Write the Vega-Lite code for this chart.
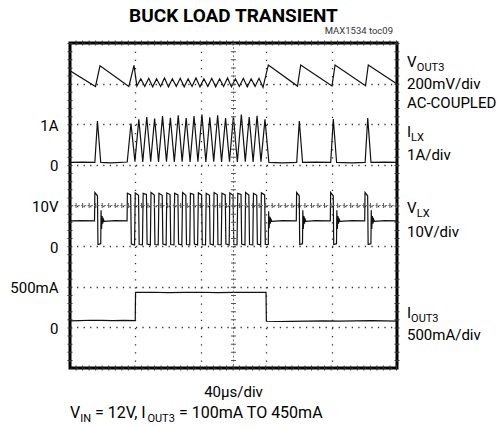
{
  "$schema": "https://vega.github.io/schema/vega-lite/v6.json",
  "width": 327,
  "height": 325,
  "autosize": {"type": "none"},
  "padding": {"left": 70, "top": 43, "right": 106, "bottom": 59},
  "background": "white",
  "config": {
    "view": {"stroke": "black", "strokeWidth": 3},
    "font": "Roboto"
  },
  "datasets": {
    "tr": [
      {"ch":"VOUT3","t":0,"v":7.318},{"ch":"VOUT3","t":31.2,"v":6.93},{"ch":"VOUT3","t":36.7,"v":7.44},{"ch":"VOUT3","t":72.0,"v":6.93},{"ch":"VOUT3","t":78.3,"v":7.45},
      {"ch":"VOUT3","t":81.8,"v":6.94},{"ch":"VOUT3","t":86.6,"v":7.12},{"ch":"VOUT3","t":91.5,"v":6.93},{"ch":"VOUT3","t":96.3,"v":7.13},{"ch":"VOUT3","t":101.1,"v":6.92},
      {"ch":"VOUT3","t":105.9,"v":7.12},{"ch":"VOUT3","t":110.8,"v":6.93},{"ch":"VOUT3","t":115.6,"v":7.14},{"ch":"VOUT3","t":120.4,"v":6.92},{"ch":"VOUT3","t":125.2,"v":7.12},
      {"ch":"VOUT3","t":130.0,"v":6.93},{"ch":"VOUT3","t":134.8,"v":7.13},{"ch":"VOUT3","t":139.7,"v":6.92},{"ch":"VOUT3","t":144.5,"v":7.12},{"ch":"VOUT3","t":149.3,"v":6.93},
      {"ch":"VOUT3","t":154.1,"v":7.14},{"ch":"VOUT3","t":159.0,"v":6.92},{"ch":"VOUT3","t":163.8,"v":7.12},{"ch":"VOUT3","t":168.6,"v":6.93},{"ch":"VOUT3","t":173.4,"v":7.13},
      {"ch":"VOUT3","t":178.2,"v":6.92},{"ch":"VOUT3","t":183.0,"v":7.12},{"ch":"VOUT3","t":187.9,"v":6.93},{"ch":"VOUT3","t":192.7,"v":7.14},{"ch":"VOUT3","t":197.5,"v":6.92},
      {"ch":"VOUT3","t":202.3,"v":7.12},{"ch":"VOUT3","t":207.2,"v":6.93},{"ch":"VOUT3","t":212.0,"v":7.13},{"ch":"VOUT3","t":216.8,"v":6.92},{"ch":"VOUT3","t":221.6,"v":7.12},
      {"ch":"VOUT3","t":226.4,"v":6.93},{"ch":"VOUT3","t":231.2,"v":7.13},{"ch":"VOUT3","t":236.1,"v":6.91},{"ch":"VOUT3","t":242.6,"v":7.46},{"ch":"VOUT3","t":278.3,"v":6.94},
      {"ch":"VOUT3","t":282.2,"v":7.46},{"ch":"VOUT3","t":320.5,"v":6.94},{"ch":"VOUT3","t":324.2,"v":7.46},{"ch":"VOUT3","t":361.5,"v":6.95},{"ch":"VOUT3","t":364.9,"v":7.46},
      {"ch":"VOUT3","t":400,"v":6.99},

      {"ch":"ILX","t":0,"v":5.06},{"ch":"ILX","t":15,"v":5.07},{"ch":"ILX","t":30.4,"v":5.06},{"ch":"ILX","t":33.6,"v":6.08},{"ch":"ILX","t":37.6,"v":5.06},
      {"ch":"ILX","t":50,"v":5.05},{"ch":"ILX","t":70.0,"v":5.07},
      {"ch":"ILX","t":74.6,"v":6.02},{"ch":"ILX","t":79.4,"v":5.08},{"ch":"ILX","t":84.2,"v":6.12},{"ch":"ILX","t":89.0,"v":5.07},{"ch":"ILX","t":93.9,"v":6.18},
      {"ch":"ILX","t":98.7,"v":5.08},{"ch":"ILX","t":103.5,"v":6.14},{"ch":"ILX","t":108.3,"v":5.07},{"ch":"ILX","t":113.2,"v":6.2},{"ch":"ILX","t":118.0,"v":5.08},
      {"ch":"ILX","t":122.8,"v":6.16},{"ch":"ILX","t":127.6,"v":5.07},{"ch":"ILX","t":132.4,"v":6.22},{"ch":"ILX","t":137.2,"v":5.08},{"ch":"ILX","t":142.1,"v":6.15},
      {"ch":"ILX","t":146.9,"v":5.07},{"ch":"ILX","t":151.7,"v":6.2},{"ch":"ILX","t":156.5,"v":5.08},{"ch":"ILX","t":161.4,"v":6.24},{"ch":"ILX","t":166.2,"v":5.07},
      {"ch":"ILX","t":171.0,"v":6.17},{"ch":"ILX","t":175.8,"v":5.08},{"ch":"ILX","t":180.6,"v":6.22},{"ch":"ILX","t":185.4,"v":5.07},{"ch":"ILX","t":190.3,"v":6.15},
      {"ch":"ILX","t":195.1,"v":5.08},{"ch":"ILX","t":199.9,"v":6.2},{"ch":"ILX","t":204.7,"v":5.07},{"ch":"ILX","t":209.6,"v":6.24},{"ch":"ILX","t":214.4,"v":5.08},
      {"ch":"ILX","t":219.2,"v":6.18},{"ch":"ILX","t":224.0,"v":5.07},{"ch":"ILX","t":228.8,"v":6.21},{"ch":"ILX","t":233.6,"v":5.08},{"ch":"ILX","t":238.5,"v":6.12},
      {"ch":"ILX","t":243.3,"v":5.06},{"ch":"ILX","t":260,"v":5.05},{"ch":"ILX","t":277.3,"v":5.06},{"ch":"ILX","t":280.5,"v":6.08},{"ch":"ILX","t":284.5,"v":5.06},
      {"ch":"ILX","t":300,"v":5.07},{"ch":"ILX","t":318.9,"v":5.06},{"ch":"ILX","t":322.1,"v":6.13},{"ch":"ILX","t":326.1,"v":5.06},{"ch":"ILX","t":345,"v":5.05},
      {"ch":"ILX","t":361.0,"v":5.06},{"ch":"ILX","t":364.2,"v":6.15},{"ch":"ILX","t":368.2,"v":5.06},{"ch":"ILX","t":385,"v":5.07},{"ch":"ILX","t":400,"v":5.06},

      {"ch":"VLX","t":0,"v":3.62},{"ch":"VLX","t":15,"v":3.63},{"ch":"VLX","t":30.0,"v":3.62},{"ch":"VLX","t":30.4,"v":4.32},{"ch":"VLX","t":33.6,"v":4.24},
      {"ch":"VLX","t":34.2,"v":3.04},{"ch":"VLX","t":37.6,"v":3.06},{"ch":"VLX","t":38.0,"v":3.88},{"ch":"VLX","t":38.6,"v":3.42},{"ch":"VLX","t":39.3,"v":3.74},
      {"ch":"VLX","t":40.0,"v":3.55},{"ch":"VLX","t":40.8,"v":3.66},{"ch":"VLX","t":41.8,"v":3.61},{"ch":"VLX","t":55,"v":3.63},{"ch":"VLX","t":69.8,"v":3.62},
      {"ch":"VLX","t":70.2,"v":4.30},{"ch":"VLX","t":74.2,"v":4.26},{"ch":"VLX","t":75.0,"v":3.05},{"ch":"VLX","t":79.0,"v":3.03},
      {"ch":"VLX","t":79.8,"v":4.31},{"ch":"VLX","t":83.8,"v":4.25},{"ch":"VLX","t":84.6,"v":3.04},{"ch":"VLX","t":88.6,"v":3.03},
      {"ch":"VLX","t":89.5,"v":4.30},{"ch":"VLX","t":93.5,"v":4.27},{"ch":"VLX","t":94.3,"v":3.05},{"ch":"VLX","t":98.3,"v":3.03},
      {"ch":"VLX","t":99.1,"v":4.32},{"ch":"VLX","t":103.1,"v":4.26},{"ch":"VLX","t":103.9,"v":3.04},{"ch":"VLX","t":107.9,"v":3.03},
      {"ch":"VLX","t":108.8,"v":4.30},{"ch":"VLX","t":112.8,"v":4.25},{"ch":"VLX","t":113.6,"v":3.05},{"ch":"VLX","t":117.6,"v":3.03},
      {"ch":"VLX","t":118.4,"v":4.31},{"ch":"VLX","t":122.4,"v":4.27},{"ch":"VLX","t":123.2,"v":3.04},{"ch":"VLX","t":127.2,"v":3.03},
      {"ch":"VLX","t":128.0,"v":4.30},{"ch":"VLX","t":132.0,"v":4.26},{"ch":"VLX","t":132.8,"v":3.05},{"ch":"VLX","t":136.8,"v":3.03},
      {"ch":"VLX","t":137.7,"v":4.32},{"ch":"VLX","t":141.7,"v":4.25},{"ch":"VLX","t":142.5,"v":3.04},{"ch":"VLX","t":146.5,"v":3.03},
      {"ch":"VLX","t":147.3,"v":4.30},{"ch":"VLX","t":151.3,"v":4.27},{"ch":"VLX","t":152.1,"v":3.05},{"ch":"VLX","t":156.1,"v":3.03},
      {"ch":"VLX","t":157.0,"v":4.31},{"ch":"VLX","t":161.0,"v":4.26},{"ch":"VLX","t":161.8,"v":3.04},{"ch":"VLX","t":165.8,"v":3.03},
      {"ch":"VLX","t":166.6,"v":4.30},{"ch":"VLX","t":170.6,"v":4.25},{"ch":"VLX","t":171.4,"v":3.05},{"ch":"VLX","t":175.4,"v":3.03},
      {"ch":"VLX","t":176.2,"v":4.32},{"ch":"VLX","t":180.2,"v":4.27},{"ch":"VLX","t":181.0,"v":3.04},{"ch":"VLX","t":185.0,"v":3.03},
      {"ch":"VLX","t":185.9,"v":4.30},{"ch":"VLX","t":189.9,"v":4.26},{"ch":"VLX","t":190.7,"v":3.05},{"ch":"VLX","t":194.7,"v":3.03},
      {"ch":"VLX","t":195.5,"v":4.31},{"ch":"VLX","t":199.5,"v":4.25},{"ch":"VLX","t":200.3,"v":3.04},{"ch":"VLX","t":204.3,"v":3.03},
      {"ch":"VLX","t":205.2,"v":4.30},{"ch":"VLX","t":209.2,"v":4.27},{"ch":"VLX","t":210.0,"v":3.05},{"ch":"VLX","t":214.0,"v":3.03},
      {"ch":"VLX","t":214.8,"v":4.32},{"ch":"VLX","t":218.8,"v":4.26},{"ch":"VLX","t":219.6,"v":3.04},{"ch":"VLX","t":223.6,"v":3.03},
      {"ch":"VLX","t":224.4,"v":4.30},{"ch":"VLX","t":228.4,"v":4.25},{"ch":"VLX","t":229.2,"v":3.05},{"ch":"VLX","t":233.2,"v":3.03},
      {"ch":"VLX","t":234.1,"v":4.31},{"ch":"VLX","t":238.1,"v":4.26},{"ch":"VLX","t":238.9,"v":3.04},{"ch":"VLX","t":242.6,"v":3.04},
      {"ch":"VLX","t":243.0,"v":3.86},{"ch":"VLX","t":243.6,"v":3.44},{"ch":"VLX","t":244.3,"v":3.73},{"ch":"VLX","t":245.0,"v":3.55},{"ch":"VLX","t":245.8,"v":3.66},
      {"ch":"VLX","t":246.8,"v":3.61},{"ch":"VLX","t":260,"v":3.63},{"ch":"VLX","t":276.8,"v":3.62},
      {"ch":"VLX","t":277.2,"v":4.32},{"ch":"VLX","t":280.4,"v":4.24},{"ch":"VLX","t":281.0,"v":3.04},{"ch":"VLX","t":284.4,"v":3.06},{"ch":"VLX","t":284.8,"v":3.88},
      {"ch":"VLX","t":285.4,"v":3.42},{"ch":"VLX","t":286.1,"v":3.74},{"ch":"VLX","t":286.8,"v":3.55},{"ch":"VLX","t":287.6,"v":3.66},{"ch":"VLX","t":288.6,"v":3.61},
      {"ch":"VLX","t":300,"v":3.63},{"ch":"VLX","t":318.4,"v":3.62},
      {"ch":"VLX","t":318.8,"v":4.32},{"ch":"VLX","t":322.0,"v":4.24},{"ch":"VLX","t":322.6,"v":3.04},{"ch":"VLX","t":326.0,"v":3.06},{"ch":"VLX","t":326.4,"v":3.88},
      {"ch":"VLX","t":327.0,"v":3.42},{"ch":"VLX","t":327.7,"v":3.74},{"ch":"VLX","t":328.4,"v":3.55},{"ch":"VLX","t":329.2,"v":3.66},{"ch":"VLX","t":330.2,"v":3.61},
      {"ch":"VLX","t":345,"v":3.63},{"ch":"VLX","t":360.5,"v":3.62},
      {"ch":"VLX","t":360.9,"v":4.32},{"ch":"VLX","t":364.1,"v":4.24},{"ch":"VLX","t":364.7,"v":3.04},{"ch":"VLX","t":368.1,"v":3.06},{"ch":"VLX","t":368.5,"v":3.88},
      {"ch":"VLX","t":369.1,"v":3.42},{"ch":"VLX","t":369.8,"v":3.74},{"ch":"VLX","t":370.5,"v":3.55},{"ch":"VLX","t":371.3,"v":3.66},{"ch":"VLX","t":372.3,"v":3.61},
      {"ch":"VLX","t":385,"v":3.63},{"ch":"VLX","t":400,"v":3.62},

      {"ch":"IOUT3","t":0,"v":1.16},{"ch":"IOUT3","t":12,"v":1.165},{"ch":"IOUT3","t":25,"v":1.175},{"ch":"IOUT3","t":38,"v":1.17},{"ch":"IOUT3","t":52,"v":1.165},
      {"ch":"IOUT3","t":66,"v":1.17},{"ch":"IOUT3","t":79.8,"v":1.165},{"ch":"IOUT3","t":80.2,"v":1.86},{"ch":"IOUT3","t":100,"v":1.865},{"ch":"IOUT3","t":120,"v":1.855},
      {"ch":"IOUT3","t":140,"v":1.86},{"ch":"IOUT3","t":160,"v":1.865},{"ch":"IOUT3","t":180,"v":1.855},{"ch":"IOUT3","t":200,"v":1.86},{"ch":"IOUT3","t":220,"v":1.865},
      {"ch":"IOUT3","t":239.8,"v":1.86},{"ch":"IOUT3","t":240.2,"v":1.15},{"ch":"IOUT3","t":255,"v":1.145},{"ch":"IOUT3","t":270,"v":1.15},{"ch":"IOUT3","t":290,"v":1.155},
      {"ch":"IOUT3","t":310,"v":1.16},{"ch":"IOUT3","t":330,"v":1.155},{"ch":"IOUT3","t":350,"v":1.16},{"ch":"IOUT3","t":370,"v":1.165},{"ch":"IOUT3","t":385,"v":1.16},
      {"ch":"IOUT3","t":400,"v":1.155}
    ],
    "nt": [
      {"txt":"V","t":412.2,"v":7.417,"k":"r"},
      {"txt":"OUT3","t":424.3,"v":7.323,"k":"rs"},
      {"txt":"200mV/div","t":412.2,"v":6.86,"k":"r"},
      {"txt":"AC-COUPLED","t":412.2,"v":6.392,"k":"r"},
      {"txt":"I","t":412.2,"v":5.679,"k":"r"},
      {"txt":"LX","t":417.2,"v":5.588,"k":"rs"},
      {"txt":"1A/div","t":412.2,"v":5.12,"k":"r"},
      {"txt":"V","t":412.2,"v":3.808,"k":"r"},
      {"txt":"LX","t":424.3,"v":3.717,"k":"rs"},
      {"txt":"10V/div","t":412.2,"v":3.232,"k":"r"},
      {"txt":"I","t":412.2,"v":1.223,"k":"r"},
      {"txt":"OUT3","t":417.2,"v":1.132,"k":"rs"},
      {"txt":"500mA/div","t":412.2,"v":0.689,"k":"r"},
      {"txt":"V","t":0,"v":-1.231,"k":"b"},
      {"txt":"IN","t":12.5,"v":-1.317,"k":"bs"},
      {"txt":"= 12V, I","t":30.6,"v":-1.231,"k":"b"},
      {"txt":"OUT3","t":94.7,"v":-1.317,"k":"bs"},
      {"txt":"= 100mA TO 450mA","t":133.3,"v":-1.231,"k":"b"},
      {"txt":"40µs/div","t":200,"v":-0.714,"k":"c"},
      {"txt":"MAX1534 toc09","t":395.1,"v":8.222,"k":"id"},
      {"txt":"BUCK LOAD TRANSIENT","t":200,"v":8.517,"k":"ttl"}
    ]
  },
  "layer": [
    {
      "data": {"name": "tr"},
      "mark": {"type": "line", "color": "#111", "strokeWidth": 1.2, "clip": true},
      "encoding": {
        "x": {"field": "t", "type": "quantitative", "scale": {"domain": [0, 400], "nice": false},
              "axis": {"values": [0,40,80,120,160,200,240,280,320,360,400], "labels": false, "ticks": false, "domain": false,
                       "grid": true, "gridColor": "#333", "gridWidth": 1.3, "gridDash": [1.3, 6.825], "title": null}},
        "y": {"field": "v", "type": "quantitative", "scale": {"domain": [0, 8], "nice": false},
              "axis": {"values": [0,1,2,3,4,5,6,7,8], "ticks": false, "domain": false,
                       "labelExpr": "datum.value == 6 ? '1A' : datum.value == 4 ? '10V' : datum.value == 2 ? '500mA' : (datum.value == 1 || datum.value == 3 || datum.value == 5) ? '0' : ''",
                       "labelFont": "Roboto", "labelFontSize": 15, "labelColor": "black", "labelPadding": 12,
                       "labelBaseline": "middle", "labelOffset": 1,
                       "grid": true, "gridColor": "#333", "gridWidth": 1.3, "gridDash": [1.3, 5.24], "title": null}},
        "detail": {"field": "ch", "type": "nominal"}
      }
    },
    {
      "data": {"values": [{"c": 4}]},
      "mark": {"type": "rule", "color": "#777", "strokeWidth": 1, "strokeDash": [2, 1.27]},
      "encoding": {"y": {"field": "c", "type": "quantitative"}}
    },
    {
      "data": {"values": [{"c": 4}]},
      "mark": {"type": "rule", "color": "#555", "strokeWidth": 5, "strokeDash": [1, 5.54]},
      "encoding": {"y": {"field": "c", "type": "quantitative"}}
    },
    {
      "data": {"values": [{"c": 200}]},
      "mark": {"type": "rule", "color": "#777", "strokeWidth": 1, "strokeDash": [2, 2.06]},
      "encoding": {"x": {"field": "c", "type": "quantitative"}}
    },
    {
      "data": {"values": [{"c": 200}]},
      "mark": {"type": "rule", "color": "#555", "strokeWidth": 5, "strokeDash": [1, 7.125]},
      "encoding": {"x": {"field": "c", "type": "quantitative"}}
    },
    {
      "data": {"values": [{"c": 0}, {"c": 8}]},
      "mark": {"type": "rule", "color": "#333", "strokeWidth": 5, "strokeDash": [1, 5.54]},
      "encoding": {"y": {"field": "c", "type": "quantitative"}}
    },
    {
      "data": {"values": [{"c": 0}, {"c": 400}]},
      "mark": {"type": "rule", "color": "#333", "strokeWidth": 5, "strokeDash": [1, 7.125]},
      "encoding": {"x": {"field": "c", "type": "quantitative"}}
    },
    {
      "data": {"name": "nt"},
      "transform": [{"filter": "datum.k == 'r'"}],
      "mark": {"type": "text", "align": "left", "baseline": "alphabetic", "font": "Roboto", "fontSize": 15, "color": "black"},
      "encoding": {
        "x": {"field": "t", "type": "quantitative"},
        "y": {"field": "v", "type": "quantitative"},
        "text": {"field": "txt"}
      }
    },
    {
      "data": {"name": "nt"},
      "transform": [{"filter": "datum.k == 'rs' || datum.k == 'bs'"}],
      "mark": {"type": "text", "align": "left", "baseline": "alphabetic", "font": "Roboto", "fontSize": 11, "color": "black"},
      "encoding": {
        "x": {"field": "t", "type": "quantitative"},
        "y": {"field": "v", "type": "quantitative"},
        "text": {"field": "txt"}
      }
    },
    {
      "data": {"name": "nt"},
      "transform": [{"filter": "datum.k == 'b'"}],
      "mark": {"type": "text", "align": "left", "baseline": "alphabetic", "font": "Roboto", "fontSize": 16, "color": "black"},
      "encoding": {
        "x": {"field": "t", "type": "quantitative"},
        "y": {"field": "v", "type": "quantitative"},
        "text": {"field": "txt"}
      }
    },
    {
      "data": {"name": "nt"},
      "transform": [{"filter": "datum.k == 'c'"}],
      "mark": {"type": "text", "align": "center", "baseline": "alphabetic", "font": "Roboto", "fontSize": 15, "color": "black"},
      "encoding": {
        "x": {"field": "t", "type": "quantitative"},
        "y": {"field": "v", "type": "quantitative"},
        "text": {"field": "txt"}
      }
    },
    {
      "data": {"name": "nt"},
      "transform": [{"filter": "datum.k == 'ttl'"}],
      "mark": {"type": "text", "align": "center", "baseline": "alphabetic", "font": "Roboto", "fontSize": 19, "fontWeight": "bold", "color": "black"},
      "encoding": {
        "x": {"field": "t", "type": "quantitative"},
        "y": {"field": "v", "type": "quantitative"},
        "text": {"field": "txt"}
      }
    },
    {
      "data": {"name": "nt"},
      "transform": [{"filter": "datum.k == 'id'"}],
      "mark": {"type": "text", "align": "right", "baseline": "alphabetic", "font": "Roboto", "fontSize": 9.5, "color": "#333"},
      "encoding": {
        "x": {"field": "t", "type": "quantitative"},
        "y": {"field": "v", "type": "quantitative"},
        "text": {"field": "txt"}
      }
    }
  ]
}
